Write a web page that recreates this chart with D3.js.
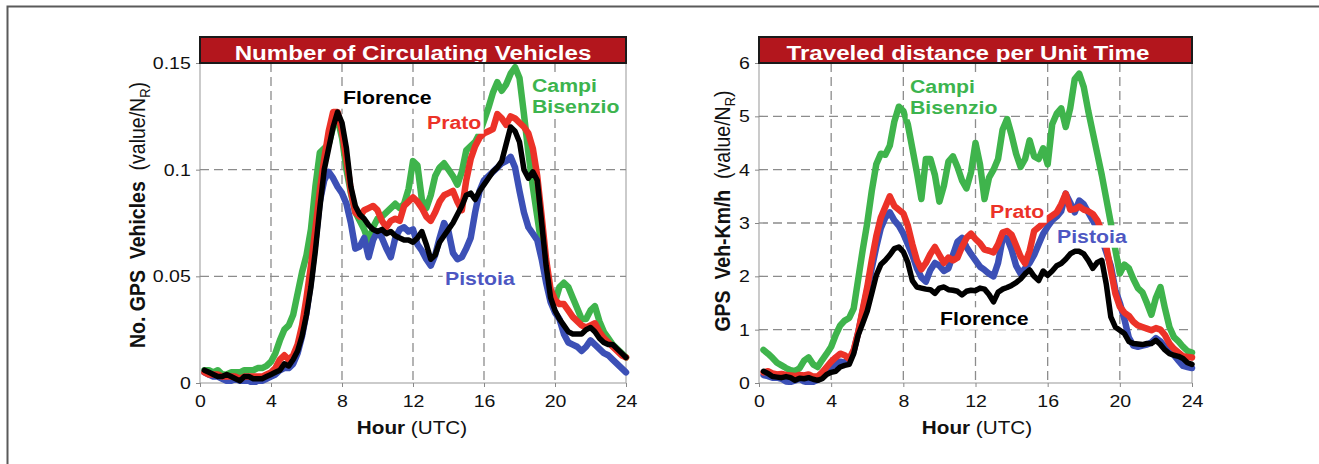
<!DOCTYPE html>
<html><head><meta charset="utf-8">
<script src="https://cdn.jsdelivr.net/npm/d3@7"></script>
<style>
html,body{margin:0;padding:0;background:#fff;}
svg{display:block;font-family:"Liberation Sans",Arial,Helvetica,sans-serif;}
</style></head><body>
<svg id="fig" width="1319" height="464"></svg>
<script>
// Hour of day (UTC), sampled every 15 minutes
const hours = [0.25,0.5,0.75,1,1.25,1.5,1.75,2,2.25,2.5,2.75,3,3.25,3.5,3.75,4,
  4.25,4.5,4.75,5,5.25,5.5,5.75,6,6.25,6.5,6.75,7,7.25,7.5,7.75,8,
  8.25,8.5,8.75,9,9.25,9.5,9.75,10,10.25,10.5,10.75,11,11.25,11.5,11.75,12,
  12.25,12.5,12.75,13,13.25,13.5,13.75,14,14.25,14.5,14.75,15,15.25,15.5,15.75,16,
  16.25,16.5,16.75,17,17.25,17.5,17.75,18,18.25,18.5,18.75,19,19.25,19.5,19.75,20,
  20.25,20.5,20.75,21,21.25,21.5,21.75,22,22.25,22.5,22.75,23,23.25,23.5,23.75,24];

const cities = ["Campi Bisenzio","Prato","Pistoia","Florence"];

// Number of circulating GPS vehicles (value / N_R)
const vehCampi = [0.006,0.006,0.005,0.006,0.004,0.004,0.005,0.005,0.005,0.006,0.006,0.006,0.007,0.007,0.008,0.010,
  0.014,0.020,0.025,0.027,0.032,0.042,0.052,0.060,0.072,0.092,0.108,0.110,0.112,0.120,0.124,0.115,
  0.100,0.089,0.080,0.076,0.072,0.066,0.073,0.077,0.078,0.080,0.082,0.084,0.082,0.084,0.091,0.104,
  0.102,0.086,0.082,0.088,0.097,0.101,0.103,0.100,0.097,0.093,0.099,0.109,0.111,0.113,0.117,0.123,
  0.129,0.136,0.141,0.137,0.140,0.145,0.148,0.143,0.126,0.108,0.092,0.078,0.064,0.053,0.043,0.038,
  0.045,0.047,0.045,0.040,0.035,0.030,0.030,0.034,0.036,0.029,0.024,0.021,0.018,0.016,0.014,0.012];
const vehPrato = [0.005,0.004,0.004,0.004,0.003,0.003,0.003,0.003,0.002,0.003,0.003,0.003,0.003,0.003,0.004,0.005,
  0.007,0.011,0.013,0.011,0.013,0.018,0.027,0.040,0.055,0.072,0.090,0.105,0.118,0.127,0.127,0.118,
  0.105,0.090,0.080,0.078,0.081,0.082,0.083,0.081,0.076,0.073,0.076,0.077,0.076,0.083,0.085,0.087,
  0.085,0.082,0.078,0.076,0.080,0.085,0.088,0.089,0.090,0.085,0.081,0.095,0.105,0.111,0.115,0.117,
  0.118,0.119,0.126,0.124,0.121,0.125,0.124,0.122,0.120,0.117,0.110,0.097,0.078,0.058,0.044,0.039,
  0.037,0.037,0.034,0.031,0.029,0.027,0.026,0.027,0.028,0.024,0.021,0.019,0.017,0.015,0.013,0.012];
const vehPistoia = [0.005,0.004,0.003,0.003,0.002,0.001,0.001,0.002,0.001,0.001,0.001,0.000,0.001,0.001,0.002,0.003,
  0.004,0.006,0.007,0.007,0.009,0.014,0.022,0.033,0.048,0.066,0.085,0.095,0.099,0.096,0.092,0.089,
  0.084,0.075,0.063,0.064,0.068,0.059,0.067,0.071,0.068,0.063,0.059,0.068,0.072,0.073,0.071,0.072,
  0.065,0.062,0.058,0.055,0.060,0.068,0.075,0.071,0.061,0.058,0.059,0.063,0.068,0.080,0.090,0.095,
  0.097,0.099,0.101,0.103,0.104,0.106,0.101,0.090,0.080,0.073,0.070,0.067,0.058,0.047,0.038,0.033,
  0.030,0.023,0.019,0.018,0.017,0.015,0.017,0.020,0.018,0.016,0.014,0.013,0.011,0.009,0.007,0.005];
const vehFlorence = [0.006,0.005,0.004,0.003,0.003,0.004,0.003,0.002,0.001,0.003,0.003,0.002,0.002,0.002,0.003,0.004,
  0.005,0.006,0.009,0.008,0.011,0.015,0.022,0.032,0.045,0.062,0.082,0.100,0.110,0.120,0.127,0.122,
  0.110,0.092,0.083,0.079,0.077,0.074,0.072,0.071,0.072,0.070,0.071,0.069,0.068,0.067,0.067,0.066,
  0.068,0.071,0.065,0.058,0.060,0.066,0.069,0.072,0.075,0.079,0.083,0.088,0.089,0.086,0.090,0.093,
  0.096,0.099,0.101,0.104,0.112,0.120,0.118,0.113,0.100,0.096,0.099,0.095,0.075,0.055,0.040,0.034,
  0.030,0.027,0.024,0.023,0.023,0.023,0.025,0.026,0.024,0.021,0.019,0.018,0.018,0.016,0.014,0.012];

// Traveled distance per unit time, GPS Veh-Km/h (value / N_R)
const kmCampi = [0.62,0.55,0.47,0.38,0.33,0.28,0.24,0.22,0.28,0.42,0.48,0.35,0.30,0.43,0.55,0.68,
  0.90,1.08,1.17,1.22,1.40,1.95,2.50,3.00,3.60,4.10,4.30,4.28,4.45,4.90,5.18,5.10,
  4.85,4.40,3.95,3.45,4.20,4.20,3.90,3.40,3.70,4.15,4.25,4.05,3.80,3.65,3.95,4.50,
  4.10,3.45,3.85,4.00,4.20,4.75,4.95,4.65,4.30,4.05,4.20,4.55,4.25,4.20,4.40,4.10,
  4.85,5.05,5.15,4.80,5.15,5.70,5.80,5.55,5.10,4.70,4.30,3.90,3.45,3.00,2.50,2.05,
  2.22,2.15,1.95,1.78,1.70,1.50,1.28,1.60,1.80,1.40,1.05,0.86,0.78,0.68,0.60,0.57];
const kmPrato = [0.20,0.22,0.18,0.16,0.17,0.15,0.14,0.13,0.15,0.14,0.16,0.12,0.12,0.20,0.30,0.40,
  0.48,0.55,0.52,0.45,0.62,0.95,1.38,1.80,2.30,2.75,3.10,3.30,3.50,3.32,3.25,3.18,
  2.95,2.60,2.30,2.13,2.25,2.42,2.55,2.40,2.25,2.35,2.30,2.35,2.55,2.72,2.80,2.70,
  2.62,2.50,2.48,2.45,2.60,2.82,2.85,2.78,2.58,2.37,2.24,2.48,2.85,2.92,3.00,3.08,
  3.14,3.20,3.35,3.55,3.25,3.26,3.31,3.25,3.22,3.17,3.05,2.85,2.55,2.12,1.68,1.43,
  1.32,1.26,1.15,1.08,1.05,1.02,0.99,1.03,1.00,0.90,0.74,0.64,0.57,0.50,0.49,0.48];
const kmPistoia = [0.15,0.13,0.10,0.10,0.08,0.03,0.02,0.05,0.08,0.03,0.01,0.02,0.06,0.12,0.22,0.30,
  0.35,0.40,0.38,0.42,0.60,0.95,1.35,1.75,2.15,2.55,2.90,3.10,3.20,3.05,2.95,2.80,
  2.60,2.40,2.15,1.98,1.90,2.12,2.25,2.20,2.10,2.15,2.40,2.65,2.72,2.55,2.42,2.30,
  2.18,2.12,2.05,2.00,2.25,2.70,2.72,2.50,2.20,2.05,2.15,2.25,2.40,2.60,2.80,2.93,
  3.05,3.12,3.22,3.55,3.38,3.20,3.42,3.35,3.20,3.05,2.90,2.70,2.45,2.20,1.75,1.50,
  1.20,0.85,0.70,0.68,0.70,0.72,0.76,0.84,0.78,0.68,0.62,0.52,0.42,0.32,0.30,0.28];
const kmFlorence = [0.22,0.18,0.12,0.11,0.10,0.12,0.10,0.05,0.09,0.08,0.10,0.07,0.05,0.08,0.16,0.20,
  0.22,0.30,0.33,0.35,0.55,0.90,1.12,1.35,1.68,2.02,2.22,2.30,2.40,2.52,2.55,2.46,
  2.26,1.92,1.80,1.78,1.76,1.75,1.68,1.78,1.80,1.75,1.74,1.72,1.65,1.72,1.74,1.73,
  1.78,1.76,1.66,1.52,1.70,1.76,1.79,1.83,1.88,1.95,2.05,2.12,2.00,1.92,2.10,2.02,
  2.10,2.20,2.24,2.32,2.42,2.47,2.47,2.42,2.30,2.15,2.26,2.30,1.85,1.24,1.05,0.99,
  0.93,0.78,0.74,0.73,0.72,0.74,0.74,0.80,0.72,0.62,0.55,0.52,0.50,0.46,0.38,0.35];

const hourTicks = [0,4,8,12,16,20,24];
const vehTicks = [0,0.05,0.1,0.15];
const vehTickLabels = ["0","0.05","0.1","0.15"];
const kmTicks = [0,1,2,3,4,5,6];
const kmTickLabels = ["0","1","2","3","4","5","6"];

// ---- styling ----
const SX = 1.15;               // horizontal stretch applied to all lettering
const colors = {"Campi Bisenzio":"#3fb44c","Prato":"#ec3228","Pistoia":"#3c50b6","Florence":"#000000"};
const labelColors = {"Campi Bisenzio":"#3cb44e","Prato":"#ec3228","Pistoia":"#4d57c2","Florence":"#000000"};
const widths = {"Campi Bisenzio":6.5,"Prato":6.5,"Pistoia":6.5,"Florence":5.5};
const drawOrder = ["Campi Bisenzio","Pistoia","Prato","Florence"];

const svg = d3.select("#fig");

// outer frame (top and left edges)
svg.append("path").attr("d","M7.5,464 L7.5,6.5 L1319,6.5")
  .attr("fill","none").attr("stroke","#5a5a5a").attr("stroke-width",2);

const panels = [
  {
    id:"veh", left:200, right:626, top:63, bottom:383, yMax:0.15,
    yTicks:vehTicks, yLabels:vehTickLabels,
    title:"Number of Circulating Vehicles", titleX:413,
    series:{"Campi Bisenzio":vehCampi,"Prato":vehPrato,"Pistoia":vehPistoia,"Florence":vehFlorence},
    yTitleBold:"No. GPS  Vehicles", yTitleX:145, yTitleY:215,
    xTitleX:412,
    labels:[
      {name:"Florence", text:["Florence"], x:343, y:104},
      {name:"Prato", text:["Prato"], x:427, y:129},
      {name:"Campi Bisenzio", text:["Campi","Bisenzio"], x:532, y:92},
      {name:"Pistoia", text:["Pistoia"], x:445, y:285}
    ]
  },
  {
    id:"km", left:759, right:1192, top:63, bottom:383, yMax:6,
    yTicks:kmTicks, yLabels:kmTickLabels,
    title:"Traveled distance per Unit Time", titleX:968,
    series:{"Campi Bisenzio":kmCampi,"Prato":kmPrato,"Pistoia":kmPistoia,"Florence":kmFlorence},
    yTitleBold:"GPS  Veh-Km/h", yTitleX:730, yTitleY:211,
    xTitleX:977,
    labels:[
      {name:"Campi Bisenzio", text:["Campi","Bisenzio"], x:910, y:93},
      {name:"Prato", text:["Prato"], x:990, y:218},
      {name:"Pistoia", text:["Pistoia"], x:1057, y:243},
      {name:"Florence", text:["Florence"], x:940, y:325}
    ]
  }
];

panels.forEach(p => {
  const x = d3.scaleLinear().domain([0,24]).range([p.left,p.right]);
  const y = d3.scaleLinear().domain([0,p.yMax]).range([p.bottom,p.top]);
  const g = svg.append("g");

  // plot background + frame
  g.append("rect").attr("x",p.left).attr("y",p.top)
    .attr("width",p.right-p.left).attr("height",p.bottom-p.top)
    .attr("fill","#fff").attr("stroke","#a8a8a8").attr("stroke-width",1.2);

  // dashed grid
  const grid = g.append("g").attr("stroke","#8c8c8c").attr("stroke-width",1.3)
    .attr("stroke-dasharray","9,5");
  hourTicks.filter(h => h>0 && h<24).forEach(h => {
    grid.append("line").attr("x1",x(h)).attr("x2",x(h)).attr("y1",p.top).attr("y2",p.bottom);
  });
  p.yTicks.filter(v => v>0 && v<p.yMax).forEach(v => {
    grid.append("line").attr("x1",p.left).attr("x2",p.right).attr("y1",y(v)).attr("y2",y(v));
  });

  // axes
  const yAxis = d3.axisLeft(y).tickValues(p.yTicks)
    .tickFormat((d,i) => p.yLabels[i]).tickSize(4).tickPadding(4);
  const xAxis = d3.axisBottom(x).tickValues(hourTicks)
    .tickFormat(d => String(d)).tickSize(4).tickPadding(8);
  [[yAxis,`translate(${p.left},0)`],[xAxis,`translate(0,${p.bottom})`]].forEach(([ax,tr]) => {
    const a = g.append("g").attr("transform",tr).call(ax);
    a.select(".domain").remove();
    a.selectAll(".tick line").attr("stroke","#888");
    a.selectAll(".tick text").attr("fill","#111").attr("font-size",17)
      .attr("font-family","'Liberation Sans',Arial,sans-serif")
      .attr("transform",`scale(${SX},1)`);
  });

  // series lines
  const clipId = "clip-"+p.id;
  svg.append("clipPath").attr("id",clipId).append("rect")
    .attr("x",p.left).attr("y",p.top-2).attr("width",p.right-p.left+4).attr("height",p.bottom-p.top+4);
  const line = d3.line().x((d,i) => x(hours[i])).y(d => y(d));
  const lines = g.append("g").attr("clip-path",`url(#${clipId})`);
  drawOrder.forEach(name => {
    lines.append("path").datum(p.series[name])
      .attr("d",line).attr("fill","none")
      .attr("stroke",colors[name]).attr("stroke-width",widths[name])
      .attr("stroke-linejoin","round").attr("stroke-linecap","round");
  });

  // series labels with white backing
  p.labels.forEach(l => {
    const lg = g.append("g").attr("transform",`translate(${l.x},${l.y}) scale(${SX},1)`);
    const bg = lg.append("rect").attr("fill","#fff");
    const t = lg.append("text").attr("font-size",18.5).attr("font-weight","bold")
      .attr("fill",labelColors[l.name]);
    l.text.forEach((s,i) => t.append("tspan").attr("x",0).attr("dy",i===0?0:21.5).text(s));
    const bb = t.node().getBBox();
    bg.attr("x",bb.x-2).attr("y",bb.y-1).attr("width",bb.width+4).attr("height",bb.height+2);
  });

  // title bar
  const tb = {x:p.left, y:37, w:p.right-p.left, h:26};
  const tclip = "tclip-"+p.id;
  svg.append("clipPath").attr("id",tclip).append("rect")
    .attr("x",tb.x).attr("y",tb.y).attr("width",tb.w).attr("height",tb.h-1);
  g.append("rect").attr("x",tb.x).attr("y",tb.y).attr("width",tb.w).attr("height",tb.h)
    .attr("fill","#b3161d").attr("stroke","#1a1a1a").attr("stroke-width",2);
  g.append("g").attr("clip-path",`url(#${tclip})`)
    .append("text").attr("transform",`translate(${p.titleX},60) scale(${SX},1)`)
    .attr("text-anchor","middle").attr("font-size",21).attr("font-weight","bold")
    .attr("fill","#fff").text(p.title);

  // x axis title
  const xt = g.append("text").attr("transform",`translate(${p.xTitleX},434) scale(${SX},1)`)
    .attr("text-anchor","middle").attr("font-size",18).attr("fill","#111");
  xt.append("tspan").attr("font-weight","bold").text("Hour");
  xt.append("tspan").text(" (UTC)");

  // y axis title
  const yt = g.append("text")
    .attr("transform",`translate(${p.yTitleX},${p.yTitleY}) rotate(-90) scale(1,${SX})`)
    .attr("text-anchor","middle").attr("font-size",19.5).attr("fill","#111")
    .style("white-space","pre");
  yt.append("tspan").attr("font-weight","bold").text(p.yTitleBold);
  yt.append("tspan").text("  (value/N");
  yt.append("tspan").attr("font-size",13).attr("dy",4).text("R");
  yt.append("tspan").attr("dy",-4).text(")");
});
</script>
</body></html>
